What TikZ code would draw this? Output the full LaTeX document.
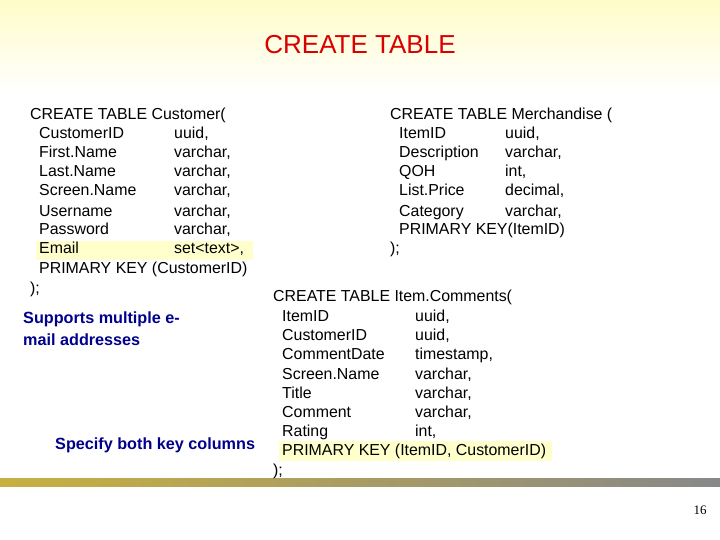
\documentclass[tikz,border=0pt]{standalone}
\usepackage{fontspec}
\setmainfont{Liberation Sans}
\newfontfamily\serifpn{Liberation Serif}
\begin{document}
\begin{tikzpicture}[x=1pt,y=-1pt,
  code/.style={anchor=west,inner sep=0pt,text height=11pt,text depth=3pt,font=\fontsize{15.9}{18}\selectfont},
  note/.style={anchor=west,inner sep=0pt,text height=11pt,text depth=3pt,font=\fontsize{16.2}{18}\selectfont\bfseries,text=blue!55!black}]
\definecolor{hl}{HTML}{FFFFCC}
\definecolor{pale}{HTML}{FFFCC8}
\useasboundingbox (0,0) rectangle (720,540);
\fill[white] (0,0) rectangle (720,540);
\shade[top color=pale,bottom color=white] (0,0) rectangle (720,92);
\shade[left color={rgb,255:red,200;green,176;blue,64},right color={rgb,255:red,136;green,136;blue,136}] (0,478) rectangle (720,486);
\fill[hl] (36,241) rectangle (253,260);
\fill[hl] (279,441) rectangle (552,461);
\node[inner sep=0pt,font=\fontsize{26}{30}\selectfont,text=red!85!black] (title) at (360,45) {CREATE TABLE};
% Customer
\node[code] (c0) at (30,116) {CREATE TABLE Customer(};
\node[code] (c1) at (39,135) {CustomerID}; \node[code] (c1t) at (174,135) {uuid,};
\node[code] (c2) at (39,154) {First.Name}; \node[code] (c2t) at (174,154) {varchar,};
\node[code] (c3) at (39,173) {Last.Name}; \node[code] (c3t) at (174,173) {varchar,};
\node[code] (c4) at (39,192) {Screen.Name}; \node[code] (c4t) at (174,192) {varchar,};
\node[code] (c5) at (39,212) {Username}; \node[code] (c5t) at (174,212) {varchar,};
\node[code] (c6) at (39,231) {Password}; \node[code] (c6t) at (174,231) {varchar,};
\node[code] (c7) at (39,250) {Email}; \node[code] (c7t) at (174,250) {set<text>,};
\node[code] (c8) at (39,269) {PRIMARY KEY (CustomerID)};
\node[code] (c9) at (30,289) {);};
% Merchandise
\node[code] (m0) at (390,116) {CREATE TABLE Merchandise (};
\node[code] (m1) at (399,135) {ItemID}; \node[code] (m1t) at (505,135) {uuid,};
\node[code] (m2) at (399,154) {Description}; \node[code] (m2t) at (505,154) {varchar,};
\node[code] (m3) at (399,173) {QOH}; \node[code] (m3t) at (505,173) {int,};
\node[code] (m4) at (399,192) {List.Price}; \node[code] (m4t) at (505,192) {decimal,};
\node[code] (m5) at (399,212) {Category}; \node[code] (m5t) at (505,212) {varchar,};
\node[code] (m6) at (399,231) {PRIMARY KEY(ItemID)};
\node[code] (m7) at (390,250) {);};
% ItemComments
\node[code] (i0) at (273,297) {CREATE TABLE Item.Comments(};
\node[code] (i1) at (282,317) {ItemID}; \node[code] (i1t) at (415,317) {uuid,};
\node[code] (i2) at (282,336) {CustomerID}; \node[code] (i2t) at (415,336) {uuid,};
\node[code] (i3) at (282,355) {CommentDate}; \node[code] (i3t) at (415,355) {timestamp,};
\node[code] (i4) at (282,375) {Screen.Name}; \node[code] (i4t) at (415,375) {varchar,};
\node[code] (i5) at (282,394) {Title}; \node[code] (i5t) at (415,394) {varchar,};
\node[code] (i6) at (282,413) {Comment}; \node[code] (i6t) at (415,413) {varchar,};
\node[code] (i7) at (282,432) {Rating}; \node[code] (i7t) at (415,432) {int,};
\node[code] (i8) at (282,451) {PRIMARY KEY (ItemID, CustomerID)};
\node[code] (i9) at (273,471) {);};
% notes
\node[note] (n1) at (23,319) {Supports multiple e-};
\node[note] (n2) at (23,341) {mail addresses};
\node[note] (n3) at (55,445) {Specify both key columns};
\node[inner sep=0pt,font=\serifpn\fontsize{13}{15}\selectfont] (pg) at (700,510) {16};
\end{tikzpicture}
\end{document}
